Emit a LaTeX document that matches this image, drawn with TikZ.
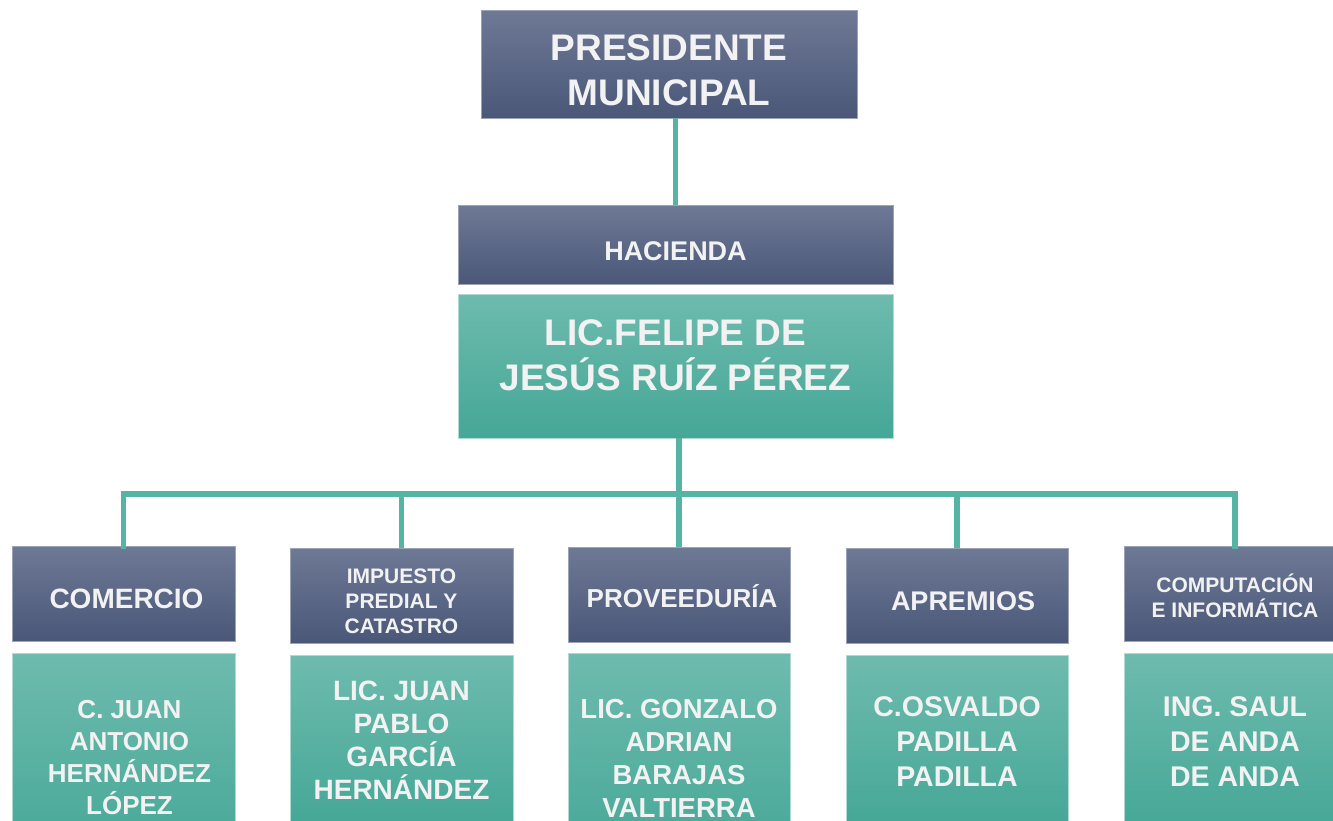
\documentclass[tikz,border=0pt]{standalone}
\usepackage{fontspec}
\setmainfont{Liberation Sans}
\definecolor{navytop}{HTML}{6E7995}
\definecolor{navybot}{HTML}{4A5778}
\definecolor{greentop}{HTML}{6EBBAE}
\definecolor{greenbot}{HTML}{45A796}
\definecolor{linkgreen}{HTML}{55B4A4}
\definecolor{boxtext}{HTML}{F2F2F2}
\begin{document}
\begin{tikzpicture}[x=1pt,y=-1pt,
    headbox/.style={rectangle, inner sep=0pt, top color=navytop, bottom color=navybot,
        draw=navybot!55!white, line width=0.8pt, text=boxtext, align=center},
    namebox/.style={rectangle, inner sep=0pt, top color=greentop, bottom color=greenbot,
        draw=greentop!55!white, line width=0.8pt, text=boxtext, align=center},
    txt/.style 2 args={font=\bfseries\fontsize{#1}{#2}\selectfont},
    link/.style={draw=linkgreen, line width=5.5pt}]
    \useasboundingbox (0,0) rectangle (1333,820);
    % top of the chart
    \node[headbox, txt={37}{45}, minimum width=376pt, minimum height=108pt] (pres) at (669,64) {\rule{0pt}{37.5pt}PRESIDENTE\\MUNICIPAL};
    \node[headbox, txt={27}{32}, minimum width=435pt, minimum height=79pt] (hac) at (675.5,245) {\rule{0pt}{31pt}HACIENDA};
    \node[namebox, txt={37}{45}, minimum width=435pt, minimum height=144pt] (felipe) at (675.5,366) {LIC.FELIPE DE\\JESÚS RUÍZ PÉREZ\rule[-22pt]{0pt}{0pt}};
    % departments
    \node[headbox, txt={28}{32}, minimum width=223pt, minimum height=95pt] (comH) at (123.5,593.5) {\rule{0pt}{30pt}\hspace*{6pt}COMERCIO};
    \node[headbox, txt={21}{25}, minimum width=223pt, minimum height=95pt] (impH) at (401.5,595.5) {\rule{0pt}{27pt}IMPUESTO\\PREDIAL Y\\CATASTRO};
    \node[headbox, txt={26}{30}, minimum width=222pt, minimum height=95pt] (provH) at (679,594.5) {\rule{0pt}{27pt}\hspace*{6pt}PROVEEDURÍA};
    \node[headbox, txt={27}{32}, minimum width=222pt, minimum height=95pt] (aprH) at (957,595.5) {\rule{0pt}{29.5pt}\hspace*{12pt}APREMIOS};
    \node[headbox, txt={21}{25}, minimum width=222pt, minimum height=95pt] (compH) at (1235,593.5) {\rule{0pt}{24pt}COMPUTACIÓN\\E INFORMÁTICA};
    % people
    \node[namebox, txt={26}{32}, minimum width=223pt, minimum height=210pt] (comN) at (123.5,758) {\hspace*{12pt}C. JUAN\\\hspace*{12pt}ANTONIO\\\hspace*{12pt}HERNÁNDEZ\\\hspace*{12pt}LÓPEZ};
    \node[namebox, txt={28}{33}, minimum width=223pt, minimum height=170pt] (impN) at (401.5,740) {LIC. JUAN\\PABLO\\GARCÍA\\HERNÁNDEZ};
    \node[namebox, txt={27.5}{33}, minimum width=222pt, minimum height=210pt] (provN) at (679,758) {LIC. GONZALO\\ADRIAN\\BARAJAS\\VALTIERRA};
    \node[namebox, txt={28.5}{35}, minimum width=222pt, minimum height=174pt] (aprN) at (957,742) {C.OSVALDO\\PADILLA\\PADILLA};
    \node[namebox, txt={28.5}{35}, minimum width=222pt, minimum height=178pt] (compN) at (1235,742) {ING. SAUL\\DE ANDA\\DE ANDA};
    % connectors
    \coordinate (bus) at (679,494);
    \draw[link] (pres.south -| hac.north) -- (hac.north);
    \draw[link] (felipe.south -| provH.north) -- (provH.north);
    \draw[link] ([yshift=-3pt]comH.north) -- (comH.north |- bus) -- (compH.north |- bus) -- ([yshift=-3pt]compH.north);
    \draw[link] (impH.north |- bus) -- (impH.north);
    \draw[link] (aprH.north |- bus) -- (aprH.north);
\end{tikzpicture}
\end{document}
